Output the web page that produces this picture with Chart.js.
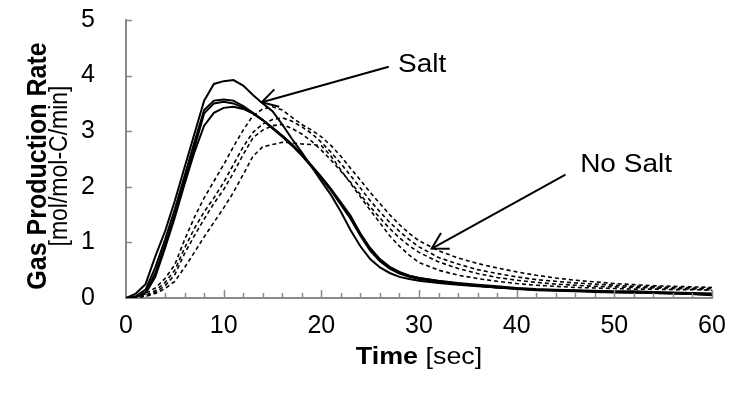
<!DOCTYPE html>
<html><head><meta charset="utf-8">
<script src="https://cdn.jsdelivr.net/npm/chart.js@4.4.0/dist/chart.umd.min.js"></script>
<style>html,body{margin:0;padding:0;background:#fff;}</style>
</head><body>
<canvas id="c" width="739" height="400"></canvas>
<script>
// time axis (sec)
const times = [0,1,2,3,4,5,6,7,8,9,10,11,12,13,14,15,16,17,18,19,20,21,22,23,24,25,26,27,28,29,30,32,34,36,38,40,42,44,46,48,50,52,54,56,58,60];
// Salt runs (solid)
const salt1 = [0,0.08,0.25,0.75,1.2,1.75,2.35,2.95,3.55,3.85, 3.9,3.92,3.82,3.65,3.5,3.36,3.12,2.86,2.62,2.36, 2.1,1.85,1.55,1.22,0.93,0.7,0.55,0.45,0.38,0.34, 0.31, 0.27,0.24,0.21,0.19,0.17,0.15,0.14,0.13,0.12,0.11,0.1,0.09,0.08,0.07,0.06];
const salt2 = [0,0.03,0.15,0.55,1.05,1.6,2.2,2.8,3.38,3.55, 3.57,3.55,3.45,3.33,3.2,3.06,2.92,2.76,2.58,2.38, 2.18,1.96,1.72,1.48,1.15,0.88,0.68,0.55,0.46,0.4, 0.36, 0.31,0.27,0.24,0.21,0.18,0.16,0.15,0.14,0.13,0.12,0.12,0.11,0.1,0.09,0.08];
const salt3 = [0,0.02,0.1,0.45,0.95,1.5,2.1,2.7,3.32,3.5, 3.53,3.5,3.42,3.32,3.2,3.05,2.9,2.74,2.56,2.36, 2.15,1.93,1.68,1.42,1.12,0.85,0.66,0.53,0.44,0.38, 0.34, 0.29,0.25,0.22,0.19,0.17,0.15,0.14,0.13,0.12,0.11,0.1,0.1,0.09,0.08,0.07];
const salt4 = [0,0.02,0.08,0.38,0.9,1.45,2.05,2.62,3.1,3.33, 3.42,3.44,3.4,3.32,3.2,3.06,2.92,2.76,2.58,2.38, 2.17,1.95,1.7,1.45,1.16,0.9,0.7,0.56,0.47,0.4, 0.36, 0.3,0.26,0.22,0.19,0.16,0.14,0.13,0.12,0.11,0.1,0.1,0.09,0.08,0.07,0.05];
// No Salt runs (dashed)
const noSalt1 = [0,0.02,0.08,0.18,0.35,0.6,1.05,1.45,1.8,2.1, 2.4,2.72,3.02,3.28,3.4,3.44,3.38,3.25,3.12,3.02, 2.9,2.74,2.55,2.33,2.12,1.9,1.7,1.5,1.32,1.16, 1.03, 0.85,0.72,0.62,0.54,0.47,0.41,0.36,0.32,0.29,0.26,0.24,0.22,0.21,0.2,0.19];
const noSalt2 = [0,0.01,0.05,0.13,0.28,0.5,0.9,1.25,1.55,1.8, 2.08,2.4,2.72,2.98,3.13,3.21,3.24,3.18,3.08,2.96, 2.8,2.62,2.42,2.2,1.98,1.75,1.55,1.36,1.2,1.05, 0.92, 0.73,0.61,0.51,0.44,0.38,0.33,0.3,0.27,0.25,0.23,0.21,0.2,0.19,0.18,0.17];
const noSalt3 = [0,0.01,0.04,0.1,0.22,0.42,0.8,1.12,1.42,1.7, 1.95,2.25,2.58,2.88,3.02,3.1,3.12,3.05,2.95,2.82, 2.66,2.48,2.28,2.08,1.86,1.64,1.44,1.25,1.08,0.94, 0.82, 0.65,0.53,0.44,0.37,0.32,0.28,0.25,0.23,0.21,0.2,0.19,0.18,0.17,0.16,0.15];
const noSalt4 = [0,0.01,0.03,0.08,0.17,0.3,0.55,0.82,1.1,1.36, 1.62,1.9,2.22,2.55,2.72,2.76,2.8,2.79,2.77,2.76, 2.74,2.55,2.3,2.06,1.82,1.58,1.35,1.12,0.93,0.77, 0.64, 0.5,0.41,0.35,0.3,0.26,0.23,0.21,0.19,0.18,0.17,0.16,0.16,0.15,0.15,0.14];
// tick settings
const xTickStep = 10, xMinorStep = 2, yTickStep = 1;
// annotations (data units): [tipX, tipY, tailX, tailY], label anchor
const saltArrow = [13.9, 3.52, 26.9, 4.16];
const saltLabel = ["Salt", 27.85, 4.19];
const noSaltArrow = [31.3, 0.89, 45.0, 2.22];
const noSaltLabel = ["No Salt", 46.5, 2.39];
const yTitle = ["Gas Production Rate", "[mol/mol-C/min]"];
const xTitle = ["Time", " [sec]"];

const FONT = '"Liberation Sans", Arial, sans-serif';
const AXIS = '#898989';
const SX = 1.12; // horizontal glyph stretch seen in the reference

function pts(arr){ return times.map((t,i)=>({x:t, y:arr[i]})); }
function ds(arr, dashed){
  return { data: pts(arr), showLine: true, pointRadius: 0, borderColor: '#000',
    borderWidth: dashed ? 1.6 : 2, borderDash: dashed ? [4,3] : [], tension: 0, fill: false };
}

const overlay = {
  id: 'overlay',
  afterDraw(chart){
    const {ctx, scales:{x, y}, chartArea:a} = chart;
    ctx.save();
    // inner tick marks
    ctx.strokeStyle = AXIS; ctx.lineWidth = 1.5;
    for (let v = xMinorStep; v <= x.max; v += xMinorStep){
      const px = Math.round(x.getPixelForValue(v)) + 0.5;
      const len = (v % xTickStep === 0) ? 8 : 5;
      ctx.beginPath(); ctx.moveTo(px, a.bottom); ctx.lineTo(px, a.bottom - len); ctx.stroke();
    }
    for (let v = yTickStep; v <= y.max; v += yTickStep){
      const py = Math.round(y.getPixelForValue(v)) + 0.5;
      ctx.beginPath(); ctx.moveTo(a.left, py); ctx.lineTo(a.left + 6, py); ctx.stroke();
    }
    // arrows
    ctx.strokeStyle = '#000'; ctx.lineWidth = 2;
    function arrow(d){
      const tx = x.getPixelForValue(d[0]), ty = y.getPixelForValue(d[1]);
      const sx = x.getPixelForValue(d[2]), sy = y.getPixelForValue(d[3]);
      ctx.beginPath(); ctx.moveTo(sx, sy); ctx.lineTo(tx, ty); ctx.stroke();
      const ang = Math.atan2(sy - ty, sx - tx), L = 18, w = Math.PI/6;
      ctx.beginPath();
      ctx.moveTo(tx + L*Math.cos(ang - w), ty + L*Math.sin(ang - w));
      ctx.lineTo(tx, ty);
      ctx.lineTo(tx + L*Math.cos(ang + w), ty + L*Math.sin(ang + w));
      ctx.stroke();
    }
    arrow(saltArrow); arrow(noSaltArrow);
    ctx.fillStyle = '#000';
    function stretchedText(t, px, py, font){
      ctx.save(); ctx.translate(px, py); ctx.scale(SX, 1);
      ctx.font = font; ctx.textAlign = 'left'; ctx.textBaseline = 'middle';
      ctx.fillText(t, 0, 0); ctx.restore();
    }
    stretchedText(saltLabel[0], x.getPixelForValue(saltLabel[1]), y.getPixelForValue(saltLabel[2]), '25px ' + FONT);
    stretchedText(noSaltLabel[0], x.getPixelForValue(noSaltLabel[1]), y.getPixelForValue(noSaltLabel[2]), '25px ' + FONT);
    // y title
    const yc = 166;
    ctx.save();
    ctx.translate(46, yc); ctx.rotate(-Math.PI/2); ctx.scale(1, SX);
    ctx.textAlign = 'center'; ctx.textBaseline = 'alphabetic';
    ctx.font = 'bold 25px ' + FONT; ctx.fillText(yTitle[0], 0, 0);
    ctx.restore();
    ctx.save();
    ctx.translate(67, yc); ctx.rotate(-Math.PI/2); ctx.scale(1, SX);
    ctx.textAlign = 'center'; ctx.textBaseline = 'alphabetic';
    ctx.font = '23px ' + FONT; ctx.fillText(yTitle[1], 0, 0);
    ctx.restore();
    // x title
    ctx.save();
    ctx.textBaseline = 'alphabetic'; ctx.textAlign = 'left';
    ctx.font = 'bold 24px ' + FONT; const w1 = ctx.measureText(xTitle[0]).width;
    ctx.font = '24px ' + FONT; const w2 = ctx.measureText(xTitle[1]).width;
    const xc = (a.left + a.right) / 2;
    const tot = (w1 + w2) * SX;
    ctx.translate(xc - tot / 2, 364); ctx.scale(SX, 1);
    ctx.font = 'bold 24px ' + FONT; ctx.fillText(xTitle[0], 0, 0);
    ctx.font = '24px ' + FONT; ctx.fillText(xTitle[1], w1, 0);
    ctx.restore();
    ctx.restore();
  }
};

new Chart(document.getElementById('c'), {
  type: 'scatter',
  data: { datasets: [
    ds(noSalt1, true), ds(noSalt2, true), ds(noSalt3, true), ds(noSalt4, true),
    ds(salt1, false), ds(salt2, false), ds(salt3, false), ds(salt4, false)
  ]},
  options: {
    responsive: false, animation: false, devicePixelRatio: 1,
    layout: { padding: { left: 0, right: 27, top: 20, bottom: 0 } },
    plugins: { legend: { display: false }, tooltip: { enabled: false } },
    scales: {
      x: { type: 'linear', min: 0, max: 60,
        ticks: { stepSize: xTickStep, color: '#000', font: { family: FONT, size: 25 }, padding: 13, maxRotation: 0 },
        grid: { display: false, drawTicks: false },
        border: { color: AXIS, width: 2 },
        afterFit: s => { s.height = 102; s.paddingLeft = 0; s.paddingRight = 0; } },
      y: { type: 'linear', min: 0, max: 5,
        ticks: { stepSize: yTickStep, color: '#000', font: { family: FONT, size: 25 }, padding: 31 },
        grid: { display: false, drawTicks: false },
        border: { color: AXIS, width: 2 },
        afterFit: s => { s.width = 126; s.paddingTop = 0; s.paddingBottom = 0; } }
    }
  },
  plugins: [overlay]
});
</script>
</body></html>
